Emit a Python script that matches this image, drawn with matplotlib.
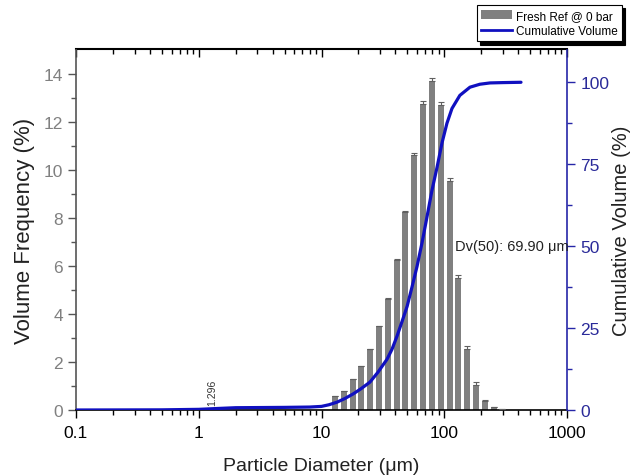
import numpy as np
import matplotlib.pyplot as plt
from matplotlib.patches import Patch
from matplotlib.lines import Line2D

plt.rcParams['font.family'] = ['Liberation Sans', 'DejaVu Sans']

# particle size bins (um) and volume frequency (%)
diameter = [12.9, 15.3, 18.1, 21.0, 24.8, 29.4, 34.8, 41.2, 47.9, 56.7,
            67.1, 79.4, 94.1, 111.4, 129.4, 153.2, 181.4, 214.7, 254.0, 295.0]
frequency = [0.58, 0.79, 1.29, 1.83, 2.53, 3.49, 4.61, 6.23, 8.23, 10.6,
             12.75, 13.67, 12.71, 9.51, 5.48, 2.53, 1.04, 0.37, 0.12, 0.05]
freq_err = [0.0, 0.0, 0.0, 0.0, 0.0, 0.0, 0.03, 0.05, 0.07, 0.1,
            0.12, 0.15, 0.12, 0.15, 0.15, 0.13, 0.12, 0.05, 0.02, 0.0]

# cumulative volume curve (%)
cum_d = [0.1, 0.5, 1.0, 1.5, 2.0, 5.0, 8.0, 10.0, 11.5, 13.4, 15.5, 18.1,
         21.0, 24.8, 28.8, 34.2, 37.5, 41.2, 45.3, 49.8, 54.6, 60.0, 65.9,
         72.4, 79.4, 87.3, 95.9, 105.2, 115.6, 134.0, 162.0, 195.0, 236.0,
         300.0, 422.0]
cum_vol = [0.0, 0.05, 0.2, 0.5, 0.7, 0.8, 0.9, 1.1, 1.6, 2.4, 3.5, 4.9,
           6.5, 8.5, 11.5, 15.5, 18.5, 22.5, 27.0, 31.6, 37.5, 43.8, 51.0,
           59.0, 67.0, 74.0, 81.5, 87.5, 92.0, 96.0, 98.5, 99.4, 99.8,
           99.9, 100.0]

peak_label = 1.296
dv50 = 69.90

grey = '#808080'
blue = '#1010c0'
axis_blue = '#2626a8'

fig = plt.figure(figsize=(6.31, 4.77), dpi=100)
ax = fig.add_axes([76 / 631, 1 - 411 / 477, (567 - 76) / 631, (411 - 50.5) / 477])
ax2 = ax.twinx()

# bars, symmetric in log space
d = np.array(diameter)
hw = 0.025
left = d / 10 ** hw
widths = d * 10 ** hw - left
ax.bar(left, frequency, width=widths, align='edge', color=grey, zorder=2)
ax.errorbar(d, frequency, yerr=[np.zeros(len(freq_err)), freq_err], fmt='none',
            ecolor='#606060', elinewidth=0.8, capsize=2.2, capthick=0.8, zorder=3)

ax2.plot(cum_d, cum_vol, color=blue, lw=2.3, solid_joinstyle='round',
         solid_capstyle='round')

ax.set_xscale('log')
ax.set_xlim(0.1, 1000)
ax.set_ylim(0, 15)
ax2.set_ylim(0, 110)

ax.set_xticks([0.1, 1, 10, 100, 1000])
ax.set_xticklabels(['0.1', '1', '10', '100', '1000'])
ax.set_yticks(range(0, 15, 2))
ax.set_yticks(range(1, 15, 2), minor=True)
ax2.set_yticks([0, 25, 50, 75, 100])
ax2.set_yticks([12.5, 37.5, 62.5, 87.5], minor=True)

ax.tick_params(axis='x', which='major', direction='out', length=6, width=1,
               labelsize=12.5, pad=5, colors='black')
ax.tick_params(axis='x', which='minor', direction='out', length=3.5, width=1)
ax.tick_params(axis='y', which='major', direction='out', length=6, width=1,
               labelsize=12.5, colors='#555555', labelcolor='#808080')
ax.tick_params(axis='y', which='minor', direction='out', length=3.5, width=1,
               colors='#555555')
ax2.tick_params(axis='y', which='major', direction='out', length=6, width=1,
                labelsize=12.5, colors=axis_blue, labelcolor='#2a2a99')
ax2.tick_params(axis='y', which='minor', direction='out', length=3.5, width=1,
                colors=axis_blue)

top = ax.secondary_xaxis('top')
top.tick_params(which='major', direction='in', length=6, width=1, labeltop=False)
top.tick_params(which='minor', direction='in', length=3.5, width=1)
top.set_xticks([0.1, 1, 10, 100, 1000])
top.set_xticklabels([])

ax.spines['top'].set_visible(False)
ax.spines['left'].set_color('#555555')
ax.spines['right'].set_visible(False)
ax2.spines['left'].set_visible(False)
ax2.spines['right'].set_color(axis_blue)
ax2.spines['top'].set_visible(False)
ax2.spines['bottom'].set_visible(False)
top.spines['top'].set_color('black')
for s in ['left', 'bottom']:
    ax.spines[s].set_linewidth(1.2)
ax2.spines['right'].set_linewidth(1.2)
top.spines['top'].set_linewidth(1.5)

ax.set_xlabel('Particle Diameter (\u03bcm)', fontsize=14, color='#222222', labelpad=12)
ax.set_ylabel('Volume Frequency (%)', fontsize=16, color='#222222', labelpad=6)
ax2.set_ylabel('Cumulative Volume (%)', fontsize=14.5, color='#222222', labelpad=2)

ax.text(peak_label, 0.22, '1.296', rotation=90, fontsize=7.5, ha='center',
        va='bottom', color='#333333')
ax2.text(122, 50, 'Dv(50): %.2f \u03bcm' % dv50, fontsize=10.5, ha='left',
         va='center', color='#222222')

handles = [Patch(facecolor=grey, edgecolor='none'),
           Line2D([], [], color=blue, lw=2)]
leg = fig.legend(handles, ['Fresh Ref @ 0 bar', 'Cumulative Volume'],
                 loc='upper right', bbox_to_anchor=(622 / 631, 1 - 6 / 477),
                 fontsize=8.5, fancybox=False, edgecolor='black', framealpha=1,
                 borderpad=0.4, handlelength=2.6, handletextpad=0.3,
                 labelspacing=0.25, borderaxespad=0,
                 shadow={'ox': 2.5, 'oy': -2.5, 'facecolor': 'black',
                         'edgecolor': 'black', 'alpha': 1})
leg.get_frame().set_linewidth(0.8)

fig.savefig('out.png', dpi=100)
